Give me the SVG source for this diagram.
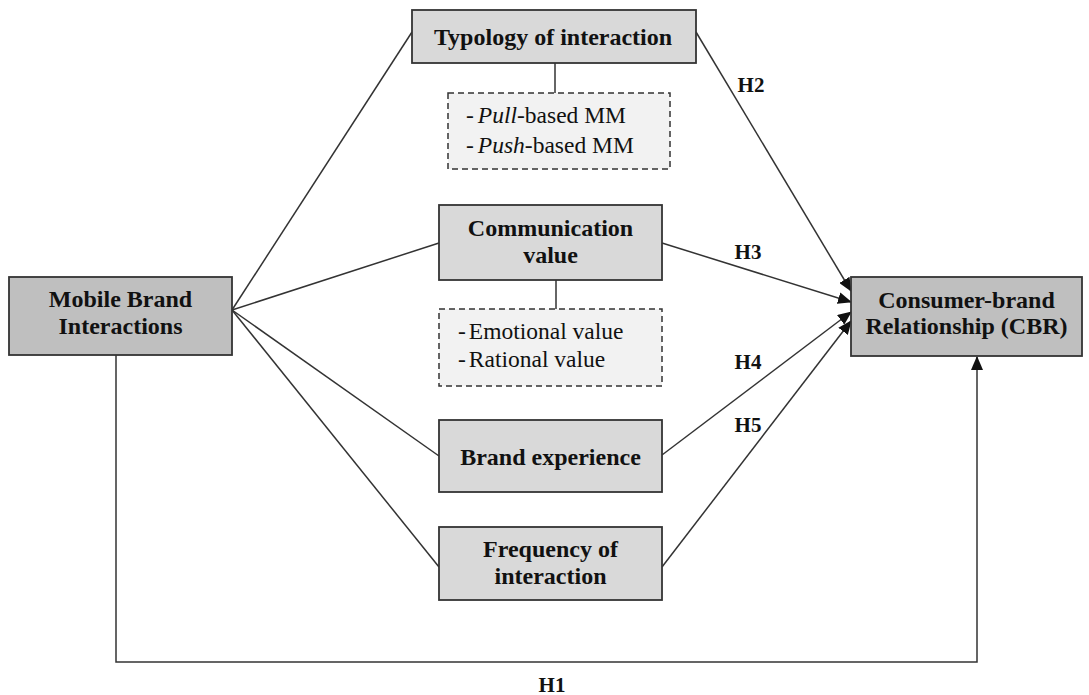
<svg xmlns="http://www.w3.org/2000/svg" width="1089" height="695" viewBox="0 0 1089 695">
<style>
.node{stroke:#333;stroke-width:1.8}
.dark{fill:#bfbfbf}
.light{fill:#d9d9d9}
.dash{fill:#f2f2f2;stroke:#333;stroke-width:1.5;stroke-dasharray:6,4}
.t{font-family:"Liberation Serif","Times New Roman",serif;font-weight:bold;font-size:24px;fill:#111;text-anchor:middle}
.s{font-family:"Liberation Serif","Times New Roman",serif;font-size:23.5px;fill:#111}
.h{font-family:"Liberation Serif","Times New Roman",serif;font-weight:bold;font-size:21px;fill:#111;text-anchor:middle}
.c{fill:none;stroke:#333;stroke-width:1.5}
</style>
<defs>
<marker id="arr" markerUnits="userSpaceOnUse" markerWidth="14" markerHeight="12" refX="13" refY="6" orient="auto">
<path d="M0,0 L14,6 L0,12 Z" fill="#111"/>
</marker>
</defs>
<rect width="1089" height="695" fill="#fff"/>
<g id="connectors">
<line class="c" x1="232" y1="310" x2="412" y2="32"/>
<line class="c" x1="232" y1="310" x2="439" y2="243"/>
<line class="c" x1="232" y1="310" x2="439" y2="456"/>
<line class="c" x1="232" y1="310" x2="439" y2="567"/>
<line class="c" x1="555" y1="63" x2="555" y2="93"/>
<line class="c" x1="556" y1="280" x2="556" y2="309"/>
<line class="c" x1="696" y1="32" x2="851" y2="291" marker-end="url(#arr)"/>
<line class="c" x1="662" y1="243" x2="851" y2="302" marker-end="url(#arr)"/>
<line class="c" x1="662" y1="455" x2="851" y2="312" marker-end="url(#arr)"/>
<line class="c" x1="662" y1="567" x2="851" y2="321" marker-end="url(#arr)"/>
<path class="c" d="M116,355 V662 H977 V357" marker-end="url(#arr)"/>
<text class="h" x="552" y="692">H1</text>
<text class="h" x="751" y="92">H2</text>
<text class="h" x="748" y="259">H3</text>
<text class="h" x="748" y="369">H4</text>
<text class="h" x="748" y="432">H5</text>
</g>
<g id="mobile">
<rect class="node dark" x="9" y="277" width="223" height="78"/>
<text class="t" x="120.5" y="307">Mobile Brand</text>
<text class="t" x="120.5" y="334">Interactions</text>
</g>
<g id="typology">
<rect class="node light" x="412" y="10" width="284" height="53"/>
<text class="t" x="553" y="45">Typology of interaction</text>
</g>
<g id="typology-sub">
<rect class="dash" x="448" y="93" width="222" height="76"/>
<text class="s" x="466" y="123">-<tspan font-style="italic" dx="4">Pull</tspan>-based MM</text>
<text class="s" x="466" y="153">-<tspan font-style="italic" dx="4">Push</tspan>-based MM</text>
</g>
<g id="communication">
<rect class="node light" x="439" y="205" width="223" height="75"/>
<text class="t" x="550.5" y="236">Communication</text>
<text class="t" x="550.5" y="263">value</text>
</g>
<g id="communication-sub">
<rect class="dash" x="439" y="309" width="223" height="77"/>
<text class="s" x="458" y="339">-<tspan dx="3">Emotional  value</tspan></text>
<text class="s" x="458" y="367">-<tspan dx="3">Rational value</tspan></text>
</g>
<g id="brand-experience">
<rect class="node light" x="439" y="420" width="223" height="72"/>
<text class="t" x="550.5" y="465">Brand experience</text>
</g>
<g id="frequency">
<rect class="node light" x="439" y="527" width="223" height="73"/>
<text class="t" x="550.5" y="557">Frequency of</text>
<text class="t" x="550.5" y="584">interaction</text>
</g>
<g id="cbr">
<rect class="node dark" x="851" y="277" width="231" height="79"/>
<text class="t" x="966.5" y="308">Consumer-brand</text>
<text class="t" x="966.5" y="334">Relationship (CBR)</text>
</g>
</svg>
